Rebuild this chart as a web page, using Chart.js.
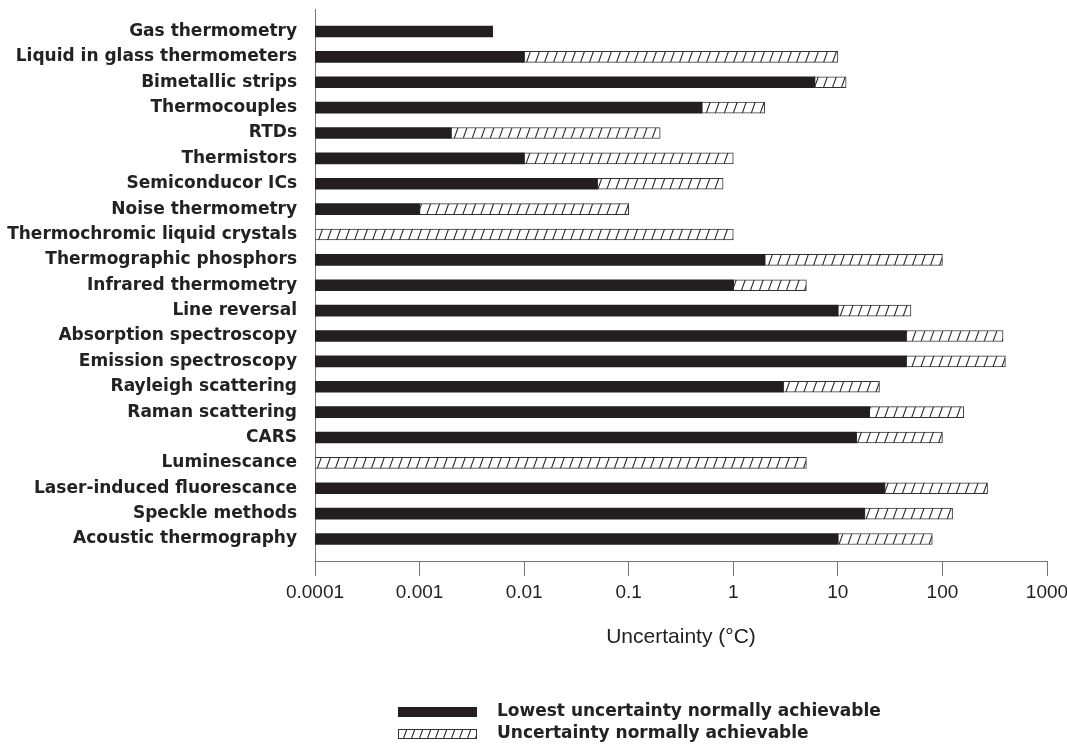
<!DOCTYPE html>
<html>
<head>
<meta charset="utf-8">
<title>Temperature measurement uncertainty</title>
<script src="https://cdn.jsdelivr.net/npm/chart.js@4.4.1/dist/chart.umd.min.js"></script>
<style>
    html, body { margin: 0; padding: 0; background: #fff; }
    #wrap { width: 1067px; height: 747px; }
</style>
</head>
<body>
<div id="wrap"><canvas id="chart" width="1067" height="747"></canvas></div>
<script>
// techniques, top to bottom
const categories = [
    "Gas thermometry",
    "Liquid in glass thermometers",
    "Bimetallic strips",
    "Thermocouples",
    "RTDs",
    "Thermistors",
    "Semiconducor ICs",
    "Noise thermometry",
    "Thermochromic liquid crystals",
    "Thermographic phosphors",
    "Infrared thermometry",
    "Line reversal",
    "Absorption spectroscopy",
    "Emission spectroscopy",
    "Rayleigh scattering",
    "Raman scattering",
    "CARS",
    "Luminescance",
    "Laser-induced fluorescance",
    "Speckle methods",
    "Acoustic thermography"
];

// uncertainty in degC (null = no bar)
const lowest = [0.005, 0.01, 6, 0.5, 0.002, 0.01, 0.05, 0.001, null, 2, 1, 10, 45, 45, 3, 20, 15, null, 28, 18, 10];
const normal = [null, 10, 12, 2, 0.2, 1, 0.8, 0.1, 1, 100, 5, 50, 380, 400, 25, 160, 100, 5, 270, 125, 80];

const xTickValues = [0.0001, 0.001, 0.01, 0.1, 1, 10, 100, 1000];
const xTickLabels = ["0.0001", "0.001", "0.01", "0.1", "1", "10", "100", "1000"];

const seriesNames = ["Lowest uncertainty normally achievable", "Uncertainty normally achievable"];

const axisMin = xTickValues[0];
const axisMax = xTickValues[xTickValues.length - 1];

const canvas = document.getElementById("chart");
const ctx = canvas.getContext("2d");

function makeHatch(step, rise) {
    const c = document.createElement("canvas");
    c.width = step;
    c.height = rise;
    const g = c.getContext("2d");
    g.fillStyle = "#fff";
    g.fillRect(0, 0, step, rise);
    g.strokeStyle = "#222";
    g.lineWidth = 1.1;
    g.beginPath();
    for (let k = -1; k <= 1; k++) {
        g.moveTo(k * step, rise);
        g.lineTo(k * step + step, 0);
    }
    g.stroke();
    return ctx.createPattern(c, "repeat");
}

const hatch = makeHatch(9, 25);
const legendHatch = makeHatch(8, 22);

const solidData = [];
const hatchData = [];
categories.forEach((c, i) => {
    if (lowest[i] != null) solidData.push({ x: [axisMin, lowest[i]], y: i });
    if (normal[i] != null) hatchData.push({ x: [lowest[i] != null ? lowest[i] : axisMin, normal[i]], y: i });
});

// legend in two rows under the axis title
const twoRowLegend = {
    id: "twoRowLegend",
    afterDraw(chart, args, opts) {
        const c = chart.ctx;
        c.save();
        c.font = opts.font;
        c.textBaseline = "middle";
        c.textAlign = "left";
        opts.rows.forEach((y, i) => {
            const ds = chart.data.datasets[i];
            const h = opts.boxHeight;
            c.fillStyle = i === 0 ? ds.backgroundColor : legendHatch;
            c.fillRect(opts.boxX, y - h / 2, opts.boxWidth, h);
            if (i === 1) {
                c.strokeStyle = "#333";
                c.lineWidth = 1;
                c.strokeRect(opts.boxX + 0.5, y - h / 2 + 0.5, opts.boxWidth - 1, h - 1);
            }
            c.fillStyle = "#222";
            c.fillText(ds.label, opts.textX, y);
        });
        c.restore();
    }
};

new Chart(ctx, {
    type: "bar",
    data: {
        datasets: [
            {
                label: seriesNames[0],
                data: solidData,
                backgroundColor: "#231f20",
                borderWidth: 0,
                barThickness: 11,
                grouped: false
            },
            {
                label: seriesNames[1],
                data: hatchData,
                backgroundColor: hatch,
                borderColor: "#333",
                borderWidth: 1,
                borderSkipped: false,
                barThickness: 11,
                grouped: false
            }
        ]
    },
    options: {
        indexAxis: "y",
        responsive: false,
        animation: false,
        devicePixelRatio: 1,
        layout: { padding: { top: 9, right: 20, bottom: 86, left: 0 } },
        scales: {
            x: {
                type: "logarithmic",
                min: axisMin,
                max: axisMax,
                afterBuildTicks: scale => {
                    scale.ticks = xTickValues.map(v => ({ value: v, major: true }));
                },
                afterFit: scale => {
                    scale.height = 100;
                    scale.paddingLeft = 0;
                    scale.paddingRight = 0;
                },
                ticks: {
                    autoSkip: false,
                    maxRotation: 0,
                    padding: 5,
                    color: "#222",
                    font: { family: "Liberation Sans", size: 19 },
                    callback: (value, index) => xTickLabels[index]
                },
                grid: {
                    display: true,
                    drawOnChartArea: false,
                    drawTicks: true,
                    tickLength: 15,
                    color: "#777",
                    lineWidth: 1
                },
                border: { display: true, color: "#777", width: 1 },
                title: {
                    display: true,
                    text: "Uncertainty (°C)",
                    color: "#222",
                    font: { family: "Liberation Sans", size: 21 },
                    padding: { top: 0, bottom: 11 }
                }
            },
            y: {
                type: "linear",
                reverse: true,
                offset: false,
                min: -0.887,
                max: 20.867,
                afterBuildTicks: scale => {
                    scale.ticks = categories.map((c, i) => ({ value: i }));
                },
                afterFit: scale => {
                    scale.width = 315;
                    scale.paddingTop = 0;
                    scale.paddingBottom = 0;
                },
                ticks: {
                    autoSkip: false,
                    padding: 18,
                    color: "#222",
                    font: { family: "DejaVu Sans", size: 17, weight: "bold" },
                    callback: value => categories[value]
                },
                grid: { display: false, drawTicks: false, offset: false },
                border: { display: true, color: "#777", width: 1 }
            }
        },
        plugins: {
            legend: { display: false },
            tooltip: { enabled: false },
            twoRowLegend: {
                rows: [712, 734],
                boxX: 398,
                boxWidth: 79,
                boxHeight: 10,
                textX: 497,
                font: "bold 17px 'DejaVu Sans'"
            }
        }
    },
    plugins: [twoRowLegend]
});
</script>
</body>
</html>
